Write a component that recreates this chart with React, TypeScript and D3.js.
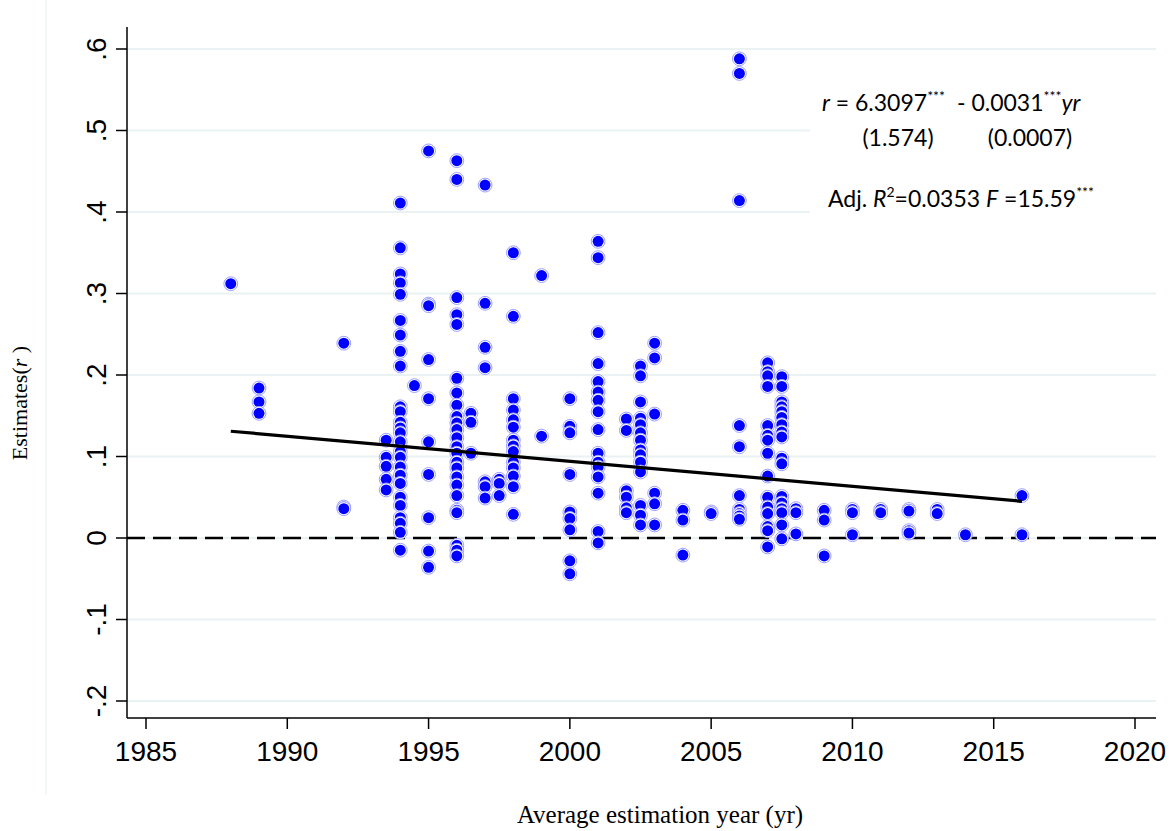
import React from "react";
import * as d3 from "d3";

const years = [1988, 1989, 1992, 1993.5, 1994, 1994.5, 1995, 1996, 1996.5, 1997, 1997.5, 1998, 1999, 2000, 2001, 2002, 2002.5, 2003, 2004, 2005, 2006, 2007, 2007.5, 2008, 2009, 2010, 2011, 2012, 2013, 2014, 2016];
const estimates: number[][] = [
  [0.312],
  [0.184, 0.167, 0.153],
  [0.239, 0.038, 0.036],
  [0.12, 0.099, 0.088, 0.072, 0.059],
  [0.411, 0.356, 0.324, 0.313, 0.299, 0.267, 0.249, 0.229, 0.211, 0.161, 0.155, 0.142, 0.135, 0.129, 0.118, 0.106, 0.099, 0.087, 0.077, 0.067, 0.05, 0.04, 0.025, 0.018, 0.007, -0.015],
  [0.187],
  [0.475, 0.287, 0.285, 0.219, 0.171, 0.118, 0.078, 0.025, -0.016, -0.036],
  [0.463, 0.44, 0.295, 0.274, 0.262, 0.196, 0.178, 0.163, 0.149, 0.141, 0.133, 0.123, 0.112, 0.104, 0.093, 0.086, 0.075, 0.065, 0.052, 0.034, 0.031, -0.009, -0.015, -0.022],
  [0.153, 0.142, 0.104],
  [0.433, 0.288, 0.234, 0.209, 0.069, 0.063, 0.049],
  [0.072, 0.067, 0.052],
  [0.35, 0.272, 0.171, 0.157, 0.145, 0.136, 0.12, 0.113, 0.106, 0.093, 0.086, 0.076, 0.063, 0.029],
  [0.322, 0.125],
  [0.171, 0.137, 0.129, 0.078, 0.032, 0.024, 0.01, -0.028, -0.044],
  [0.364, 0.344, 0.252, 0.214, 0.192, 0.179, 0.169, 0.155, 0.133, 0.104, 0.093, 0.087, 0.075, 0.055, 0.008, -0.006],
  [0.146, 0.132, 0.058, 0.05, 0.037, 0.031],
  [0.211, 0.199, 0.167, 0.147, 0.139, 0.129, 0.12, 0.108, 0.102, 0.093, 0.081, 0.04, 0.028, 0.016],
  [0.239, 0.221, 0.152, 0.055, 0.042, 0.016],
  [0.034, 0.022, -0.021],
  [0.032, 0.03],
  [0.588, 0.57, 0.414, 0.138, 0.112, 0.052, 0.035, 0.03, 0.027, 0.023],
  [0.215, 0.204, 0.199, 0.186, 0.138, 0.126, 0.12, 0.104, 0.076, 0.05, 0.038, 0.03, 0.014, 0.009, -0.011],
  [0.198, 0.186, 0.167, 0.161, 0.155, 0.148, 0.139, 0.13, 0.124, 0.098, 0.091, 0.051, 0.043, 0.036, 0.031, 0.016, -0.001],
  [0.036, 0.031, 0.005],
  [0.034, 0.022, -0.022],
  [0.035, 0.031, 0.004],
  [0.035, 0.031],
  [0.035, 0.033, 0.009, 0.006],
  [0.035, 0.03],
  [0.004],
  [0.052, 0.004],
];

const fitYears = [1988, 2016];
const fitValues = [0.131, 0.045];

const xTicks = [1985, 1990, 1995, 2000, 2005, 2010, 2015, 2020];
const yTicks = [-0.2, -0.1, 0, 0.1, 0.2, 0.3, 0.4, 0.5, 0.6];
const yTickLabels = ["-.2", "-.1", "0", ".1", ".2", ".3", ".4", ".5", ".6"];

const W = 1171;
const H = 831;

export default function App() {
  const x = d3.scaleLinear().domain([1985, 2020]).range([146, 1135]);
  const y = d3.scaleLinear().domain([-0.2, 0.6]).range([701, 49]);
  const axisX = 127;
  const axisY = 718;
  const rightEdge = 1156;
  const topY = y(0.627);

  const pts: { yr: number; v: number }[] = [];
  years.forEach((yr, i) => estimates[i].forEach((v) => pts.push({ yr, v })));

  const line = d3
    .line<number>()
    .x((_, i) => x(fitYears[i]))
    .y((d) => y(d));

  const sans = "'Liberation Sans', Arial, sans-serif";
  const serif = "'Liberation Serif', 'Times New Roman', serif";
  const annot = "Lato, 'Open Sans', sans-serif";

  return (
    <svg width={W} height={H} style={{ position: "absolute", left: 0, top: 0, background: "#fff" }}>
      <rect x={0} y={0} width={W} height={H} fill="#fff" />
      <line x1={46} x2={46} y1={0} y2={795} stroke="#e6eef0" strokeWidth={1} />
      {/* grid */}
      {yTicks.map((t) => (
        <line key={"g" + t} x1={axisX} x2={rightEdge} y1={y(t)} y2={y(t)} stroke="#eaf2f3" strokeWidth={2} />
      ))}
      {/* annotation box */}
      <rect x={810} y={72} width={rightEdge - 810 + 2} height={146} fill="#fff" />
      {/* zero dashed line */}
      <line x1={axisX} x2={rightEdge} y1={y(0)} y2={y(0)} stroke="#000" strokeWidth={2.5} strokeDasharray="18,8" />
      {/* points */}
      {pts.map((p, i) => (
        <g key={i}>
          <circle cx={x(p.yr)} cy={y(p.v)} r={6.9} fill="#fff" stroke="#9f9fff" strokeWidth={1} />
          <circle cx={x(p.yr)} cy={y(p.v)} r={5.5} fill="#0000ff" />
        </g>
      ))}
      {/* fit line */}
      <path d={line(fitValues) || ""} fill="none" stroke="#000" strokeWidth={3.2} />
      {/* axes */}
      <line x1={axisX} x2={axisX} y1={topY} y2={axisY} stroke="#000" strokeWidth={1.5} />
      <line x1={axisX} x2={rightEdge} y1={axisY} y2={axisY} stroke="#000" strokeWidth={1.5} />
      {yTicks.map((t, i) => (
        <g key={"yt" + t}>
          <line x1={axisX - 11} x2={axisX} y1={y(t)} y2={y(t)} stroke="#000" strokeWidth={1.5} />
          <text
            transform={`translate(106,${y(t)}) rotate(-90)`}
            textAnchor="middle"
            fontFamily={sans}
            fontSize={28}
            fill="#000"
          >
            {yTickLabels[i]}
          </text>
        </g>
      ))}
      {xTicks.map((t) => (
        <g key={"xt" + t}>
          <line x1={x(t)} x2={x(t)} y1={axisY} y2={axisY + 11} stroke="#000" strokeWidth={1.5} />
          <text x={x(t)} y={761} textAnchor="middle" fontFamily={sans} fontSize={28} fill="#000">
            {t}
          </text>
        </g>
      ))}
      {/* axis titles */}
      <text x={660} y={823} textAnchor="middle" fontFamily={serif} fontSize={25} fill="#000">
        Average estimation year (yr)
      </text>
      <text transform="translate(27,403) rotate(-90)" textAnchor="middle" fontFamily={serif} fontSize={22} fill="#000">
        Estimates(<tspan fontStyle="italic">r</tspan> )
      </text>
      {/* annotation */}
      <g fontFamily={annot} fontSize={23} fill="#000">
        <text x={822} y={111}>
          <tspan fontStyle="italic">r</tspan>
          <tspan> = 6.3097</tspan>
          <tspan fontSize={14} dy={-10}>***</tspan>
          <tspan dy={10} dx={12}>- 0.0031</tspan>
          <tspan fontSize={14} dy={-10}>***</tspan>
          <tspan dy={10} fontStyle="italic">yr</tspan>
        </text>
        <text x={898} y={146} textAnchor="middle">(1.574)</text>
        <text x={1030} y={146} textAnchor="middle">(0.0007)</text>
        <text x={828} y={207}>
          <tspan>Adj. </tspan>
          <tspan fontStyle="italic">R</tspan>
          <tspan fontSize={14} dy={-10}>2</tspan>
          <tspan dy={10}>=0.0353 </tspan>
          <tspan fontStyle="italic">F</tspan>
          <tspan> =15.59</tspan>
          <tspan fontSize={14} dy={-10}>***</tspan>
        </text>
      </g>
    </svg>
  );
}
